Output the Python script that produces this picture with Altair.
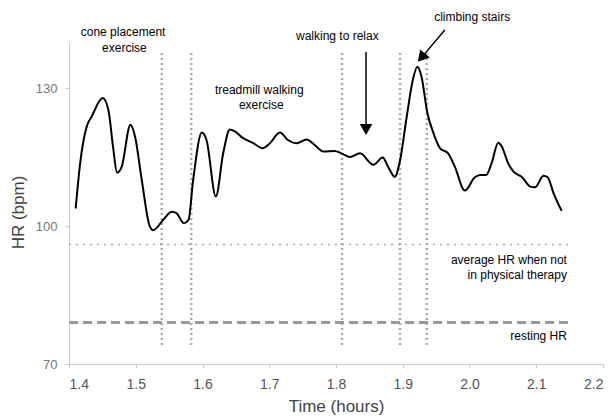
import altair as alt
import pandas as pd

# Heart-rate trace (time in hours, HR in bpm)
time_h = [1.410, 1.417, 1.4265, 1.434, 1.4505, 1.459, 1.466, 1.472, 1.479, 1.492,
          1.499, 1.509, 1.521, 1.526, 1.541, 1.554, 1.561, 1.572, 1.579, 1.586,
          1.599, 1.606, 1.620, 1.631, 1.641, 1.649, 1.661, 1.676, 1.690, 1.701,
          1.716, 1.728, 1.741, 1.756, 1.768, 1.781, 1.798, 1.808, 1.821, 1.836,
          1.856, 1.870, 1.878, 1.888, 1.896, 1.906, 1.915, 1.922, 1.928, 1.937,
          1.946, 1.956, 1.968, 1.978, 1.993, 2.008, 2.016, 2.025, 2.033, 2.043,
          2.048, 2.058, 2.066, 2.078, 2.092, 2.098, 2.111, 2.117, 2.126, 2.138]
hr_bpm = [103.8, 114.0, 121.6, 123.8, 127.8, 125.2, 117.2, 111.6, 112.9, 122.0,
          119.4, 110.0, 99.9, 99.1, 101.3, 103.1, 102.8, 100.6, 101.3, 110.0,
          120.3, 118.7, 106.4, 115.8, 121.0, 120.5, 119.1, 118.0, 116.9, 118.0,
          120.3, 118.7, 118.0, 118.8, 117.6, 116.2, 116.3, 115.8, 115.0, 115.8,
          113.3, 114.9, 112.9, 110.7, 114.3, 123.8, 131.7, 134.6, 132.5, 124.5,
          120.2, 116.9, 115.8, 112.9, 107.7, 110.6, 111.1, 111.1, 113.6, 118.1,
          117.4, 113.6, 111.8, 110.7, 108.5, 108.4, 110.9, 110.6, 107.1, 103.3]

# Vertical dotted phase separators
phase_x = [1.539, 1.583, 1.809, 1.896, 1.936]
phase_top = 137.6
phase_bottom = 73.5

# Reference lines
avg_hr = 96
rest_hr = 79
ref_end = 2.148

# Annotations (centered)
center_text = ["cone placement", "exercise", "treadmill walking", "exercise",
               "walking to relax", "climbing stairs"]
center_x = [1.481, 1.483, 1.685, 1.688, 1.802, 2.004]
center_y = [142.2, 138.7, 129.6, 126.3, 141.3, 145.4]

# Annotations (right-aligned)
right_text = ["average HR when not", "in physical therapy", "resting HR"]
right_x = [2.146, 2.146, 2.146]
right_y = [92.6, 89.3, 76.1]

# Arrows: shaft start/end and head position
arrow_x = [1.845, 1.963]
arrow_y = [137.8, 142.6]
arrow_x2 = [1.845, 1.928]
arrow_y2 = [121.5, 136.6]
head_x = [1.845, 1.928]
head_y = [121.0, 136.6]
head_angle = [180, 220]

x_ticks = [1.4, 1.5, 1.6, 1.7, 1.8, 1.9, 2.0, 2.1, 2.2]
y_ticks = [70, 100, 130]

FONT = "Liberation Sans"

xscale = alt.Scale(domain=[1.4, 2.2], nice=False, zero=False)
yscale = alt.Scale(domain=[70, 140], nice=False, zero=False)

hr_df = pd.DataFrame({"t": time_h, "hr": hr_bpm})

line = alt.Chart(hr_df).mark_line(
    interpolate="monotone", color="black", strokeWidth=2
).encode(
    x=alt.X("t:Q", scale=xscale, title="Time (hours)",
            axis=alt.Axis(values=x_ticks, format=".1f", grid=False,
                          domainColor="#cccccc", tickColor="#cccccc", tickSize=4,
                          labelColor="#555555", labelFontSize=14, labelFont=FONT,
                          labelPadding=9, titleFont=FONT, titleFontSize=17,
                          titleFontWeight="normal", titleColor="#444444",
                          titleY=34, titleBaseline="top")),
    y=alt.Y("hr:Q", scale=yscale, title="HR (bpm)",
            axis=alt.Axis(values=y_ticks, grid=False,
                          domainColor="#cccccc", tickColor="#cccccc", tickSize=4,
                          labelColor="#777777", labelFontSize=13, labelFont=FONT,
                          labelPadding=8, titleFont=FONT, titleFontSize=17,
                          titleFontWeight="normal", titleColor="#444444",
                          titleX=-51, titleY=170, titleAngle=-90,
                          titleBaseline="middle", titleAlign="center")),
)

vdf = pd.DataFrame({"x": phase_x, "y": [phase_top] * len(phase_x),
                    "y2": [phase_bottom] * len(phase_x)})
vrules = alt.Chart(vdf).mark_rule(
    color="#aaaaaa", strokeWidth=2.5, strokeDash=[2, 3]
).encode(x=alt.X("x:Q", scale=xscale), y=alt.Y("y:Q", scale=yscale), y2="y2:Q")

avg_df = pd.DataFrame({"x": [1.4], "x2": [ref_end], "y": [avg_hr]})
avg_rule = alt.Chart(avg_df).mark_rule(
    color="#aaaaaa", strokeWidth=1.5, strokeDash=[2, 5]
).encode(x=alt.X("x:Q", scale=xscale), x2="x2:Q", y=alt.Y("y:Q", scale=yscale))

rest_df = pd.DataFrame({"x": [1.4], "x2": [ref_end], "y": [rest_hr]})
rest_rule = alt.Chart(rest_df).mark_rule(
    color="#999999", strokeWidth=3, strokeDash=[9, 5]
).encode(x=alt.X("x:Q", scale=xscale), x2="x2:Q", y=alt.Y("y:Q", scale=yscale))

ctext_df = pd.DataFrame({"x": center_x, "y": center_y, "text": center_text})
ctext = alt.Chart(ctext_df).mark_text(
    align="center", baseline="middle", font=FONT, fontSize=12, color="black"
).encode(x=alt.X("x:Q", scale=xscale), y=alt.Y("y:Q", scale=yscale), text="text:N")

rtext_df = pd.DataFrame({"x": right_x, "y": right_y, "text": right_text})
rtext = alt.Chart(rtext_df).mark_text(
    align="right", baseline="middle", font=FONT, fontSize=12, color="black"
).encode(x=alt.X("x:Q", scale=xscale), y=alt.Y("y:Q", scale=yscale), text="text:N")

shaft_df = pd.DataFrame({"x": arrow_x, "y": arrow_y, "x2": arrow_x2, "y2": arrow_y2})
shafts = alt.Chart(shaft_df).mark_rule(color="black", strokeWidth=1.5).encode(
    x=alt.X("x:Q", scale=xscale), y=alt.Y("y:Q", scale=yscale), x2="x2:Q", y2="y2:Q")

head_df = pd.DataFrame({"x": head_x, "y": head_y, "angle": head_angle})
heads = alt.Chart(head_df).mark_point(
    shape="triangle-up", filled=True, color="black", opacity=1, size=160
).encode(x=alt.X("x:Q", scale=xscale), y=alt.Y("y:Q", scale=yscale),
         angle=alt.Angle("angle:Q", scale=None))

chart = alt.layer(
    vrules, avg_rule, rest_rule, line, ctext, rtext, shafts, heads
).properties(
    width=534, height=322,
    autosize=alt.AutoSizeParams(type="none"),
    padding={"left": 61, "top": 34, "right": 5, "bottom": 55},
    background="white",
).configure_view(stroke=None)

chart.save("out.html", embed_options={"renderer": "svg", "actions": False})
